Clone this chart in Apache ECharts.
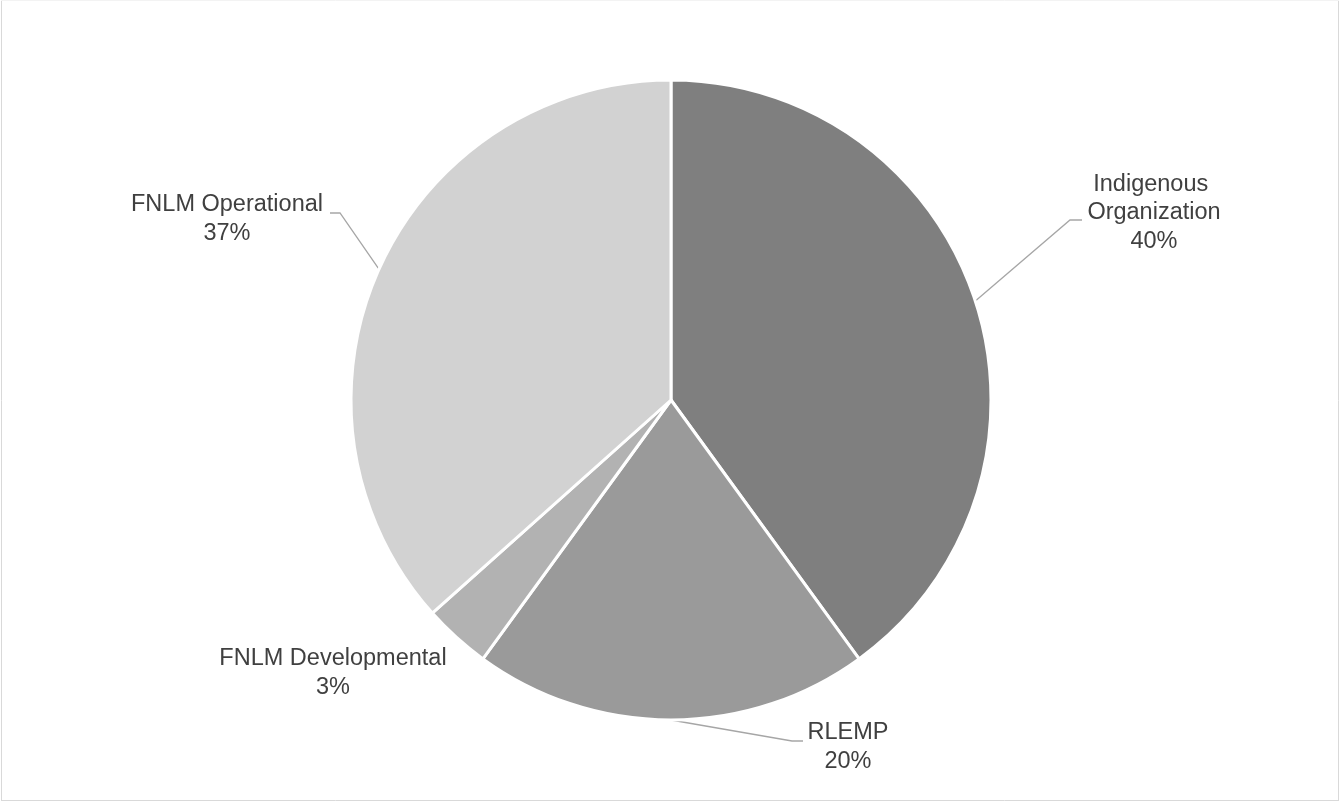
<!DOCTYPE html>
<html>
<head>
<meta charset="utf-8">
<script src="https://cdn.jsdelivr.net/npm/echarts@6/dist/echarts.min.js"></script>
<style>
  html, body { margin: 0; padding: 0; background: #fff; }
  #chart { width: 1340px; height: 802px; }
</style>
</head>
<body>
<div id="chart"></div>
<script>
// ---- data ----
const categories = ['Indigenous Organization', 'RLEMP', 'FNLM Developmental', 'FNLM Operational'];
const values = [40.0, 20.0, 3.4, 36.6];
const colors = ['#7f7f7f', '#9a9a9a', '#b2b2b2', '#d2d2d2'];

// label placement (styles): centre of text block, and leader-line bend/end
const labelSpots = [
  { x: 1154, y: 213, bend: [1070, 220], end: [1082, 220], line: true, width: 150 },
  { x: 848, y: 747, bend: [792, 741], end: [803, 741], line: true },
  { x: 333, y: 673, line: false },
  { x: 227, y: 219, bend: [340, 213], end: [330, 213], line: true }
];

const data = categories.map((c, i) => {
  const item = {
    name: c,
    value: values[i],
    itemStyle: { color: colors[i] },
    labelLine: { show: labelSpots[i].line }
  };
  if (labelSpots[i].width) {
    item.label = { width: labelSpots[i].width, overflow: 'break' };
  }
  return item;
});

const frameLine = (x1, y1, x2, y2, color) => ({
  type: 'line',
  shape: { x1: x1, y1: y1, x2: x2, y2: y2 },
  style: { stroke: color, lineWidth: 1 },
  silent: true
});

const chart = echarts.init(document.getElementById('chart'), null, { renderer: 'canvas' });
chart.setOption({
  backgroundColor: '#ffffff',
  animation: false,
  graphic: [
    frameLine(1.5, 0, 1.5, 801, '#d9d9d9'),
    frameLine(1338.5, 0, 1338.5, 801, '#d9d9d9'),
    frameLine(1, 800.5, 1339, 800.5, '#d9d9d9'),
    frameLine(1, 0.5, 1339, 0.5, '#f3f3f3')
  ],
  series: [{
    type: 'pie',
    center: [671, 400],
    radius: [0, 320],
    startAngle: 90,
    clockwise: true,
    percentPrecision: 0,
    avoidLabelOverlap: false,
    itemStyle: { borderColor: '#ffffff', borderWidth: 3 },
    label: {
      show: true,
      position: 'outside',
      formatter: '{b}\n{d}%',
      fontFamily: 'Liberation Sans, Arial, sans-serif',
      fontSize: 23.5,
      lineHeight: 28.5,
      color: '#404040',
      align: 'center'
    },
    labelLine: {
      show: true,
      lineStyle: { color: '#a6a6a6', width: 1.3 }
    },
    labelLayout: function (params) {
      const s = labelSpots[params.dataIndex];
      const out = { x: s.x, y: s.y, align: 'center', verticalAlign: 'middle' };
      if (s.line && params.labelLinePoints) {
        out.labelLinePoints = [params.labelLinePoints[0], s.bend, s.end];
      }
      return out;
    },
    data: data
  }]
});
</script>
</body>
</html>
